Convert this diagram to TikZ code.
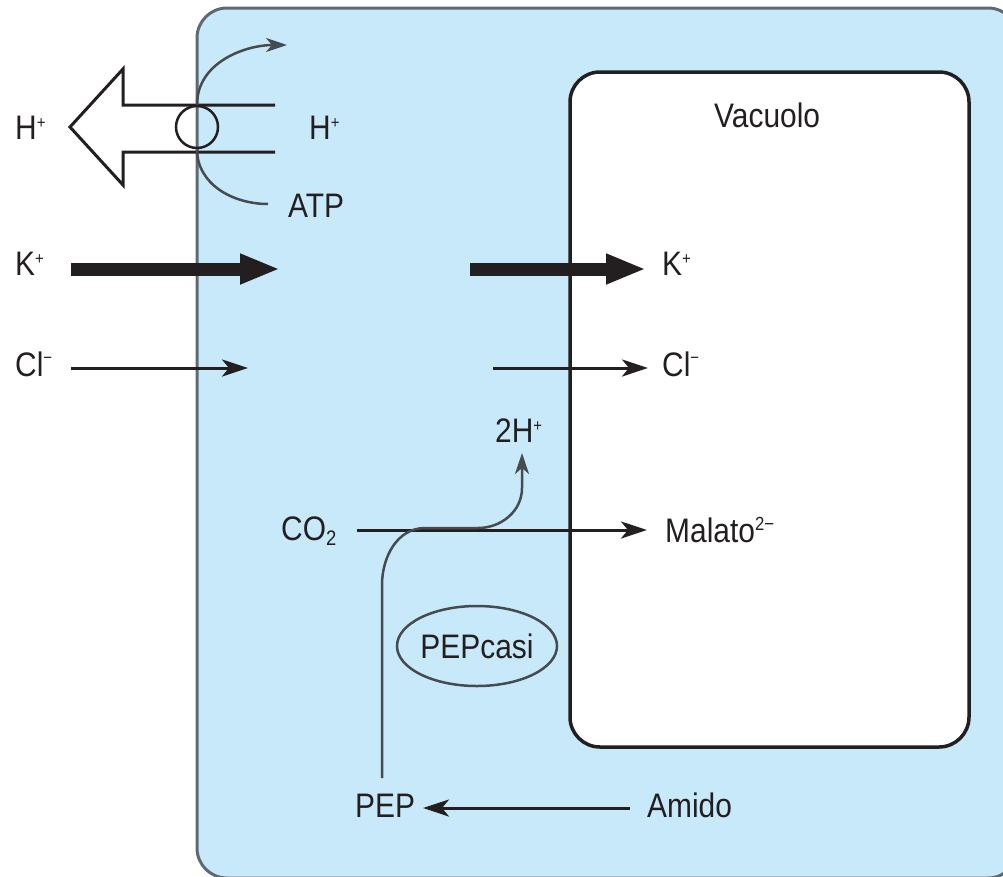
\documentclass[tikz,border=0pt]{standalone}
\usepackage{fontspec}
\setmainfont{Liberation Sans}[FakeStretch=0.88]
\usetikzlibrary{arrows.meta,shapes.geometric}
\definecolor{cellfill}{RGB}{200,233,250}
\definecolor{cellline}{RGB}{95,105,115}
\definecolor{ink}{RGB}{35,31,32}
\definecolor{curvegray}{RGB}{70,75,80}
\newcommand\upsc[2]{\raisebox{#1}{\fontsize{17}{17}\selectfont #2}}
\tikzset{
  lbl/.style={inner sep=0pt, anchor=base west, text=ink, font=\fontsize{34}{40}\selectfont},
  thickarrow/.style={draw=ink, line width=13pt, -{Triangle[length=40pt,width=28pt]}},
  thinarrow/.style={draw=ink, line width=3pt, -{Stealth[length=26pt,width=17pt,inset=7pt]}},
  curveline/.style={draw=curvegray, line width=2.5pt},
  smallhead/.style={-{Stealth[length=21pt,width=14pt,inset=6pt]}},
}
\begin{document}
\begin{tikzpicture}[x=1pt,y=-1pt]
\useasboundingbox (0,0) rectangle (1003,876);
% cell
\begin{scope}
\clip (0,0) rectangle (1003,876);
\draw[fill=cellfill, draw=cellline, line width=3pt, rounded corners=30pt] (197,8) rectangle (1018,878);
\end{scope}
% vacuole
\draw[fill=white, draw=ink, line width=3.5pt, rounded corners=30pt] (570,72) rectangle (969,747);

% labels
\node[lbl] (hout) at (15,139) {H\upsc{11pt}{+}};
\node[lbl] (hin) at (309,139) {H\upsc{11pt}{+}};
\node[lbl] (atp) at (288,217) {ATP};
\node[lbl] (kout) at (15,275) {K\upsc{11pt}{+}};
\node[lbl] (clout) at (15,376) {Cl\upsc{13pt}{−}};
\node[lbl] (vac) at (714,127) {Vacuolo};
\node[lbl] (kin) at (662,275) {K\upsc{11pt}{+}};
\node[lbl] (clin) at (662,376) {Cl\upsc{13pt}{−}};
\node[lbl] (h2) at (495,442) {2H\upsc{11pt}{+}};
\node[lbl] (co2) at (281,540) {CO\raisebox{-5pt}{\fontsize{21}{21}\selectfont 2}};
\node[lbl] (mal) at (665,542) {Malato\raisebox{12pt}{\fontsize{19}{19}\selectfont 2−}};
\node[lbl] (pep) at (355,817) {PEP};
\node[lbl] (amido) at (647,817) {Amido};
\node[draw=curvegray, line width=2.5pt, ellipse, minimum width=160pt, minimum height=80pt, inner sep=0pt, text=ink, font=\fontsize{34}{40}\selectfont] (pepcasi) at (477,646) {PEPcasi};

% proton pump
\draw[draw=ink, line width=3pt, line join=miter]
  (275,105) -- (123,105) -- (123,69) -- (70,127) -- (123,185) -- (123,152) -- (275,152);
\node[draw=ink, circle, line width=2.5pt, minimum size=42pt, inner sep=0pt] (pump) at (197,127) {};
\coordinate (toparc) at (287,45);
\coordinate (botarc) at (268,204);
\draw[curveline, smallhead] (pump.north) to[out=90,in=180] (toparc);
\draw[curveline] (pump.south) to[out=-90,in=180] (botarc);

% K+ arrows
\coordinate (k1s) at (71,269);
\coordinate (k1e) at (280,269);
\coordinate (k2s) at (470,269);
\coordinate (k2e) at (646,269);
\draw[thickarrow] (k1s) -- (k1e);
\draw[thickarrow] (k2s) -- (k2e);

% Cl- arrows
\coordinate (c1s) at (71,368);
\coordinate (c1e) at (248,368);
\coordinate (c2s) at (493,368);
\coordinate (c2e) at (648,368);
\draw[thinarrow] (c1s) -- (c1e);
\draw[thinarrow] (c2s) -- (c2e);

% CO2 -> Malato
\draw[thinarrow] (co2.east |- 0,530) ++(20,0) coordinate (co2s) -- (647,530) coordinate (male);

% PEP -> 2H+
\coordinate (pepup) at (382,778);
\coordinate (h2tip) at (522,453);
\draw[curveline, smallhead] (pepup) -- (382,585) to[out=90,in=180] (425,528) -- (478,528) to[out=0,in=-90] (522,488) -- (h2tip);

% Amido -> PEP
\coordinate (amis) at (630,808);
\coordinate (pept) at (423,808);
\draw[thinarrow] (amis) -- (pept);
\end{tikzpicture}
\end{document}
